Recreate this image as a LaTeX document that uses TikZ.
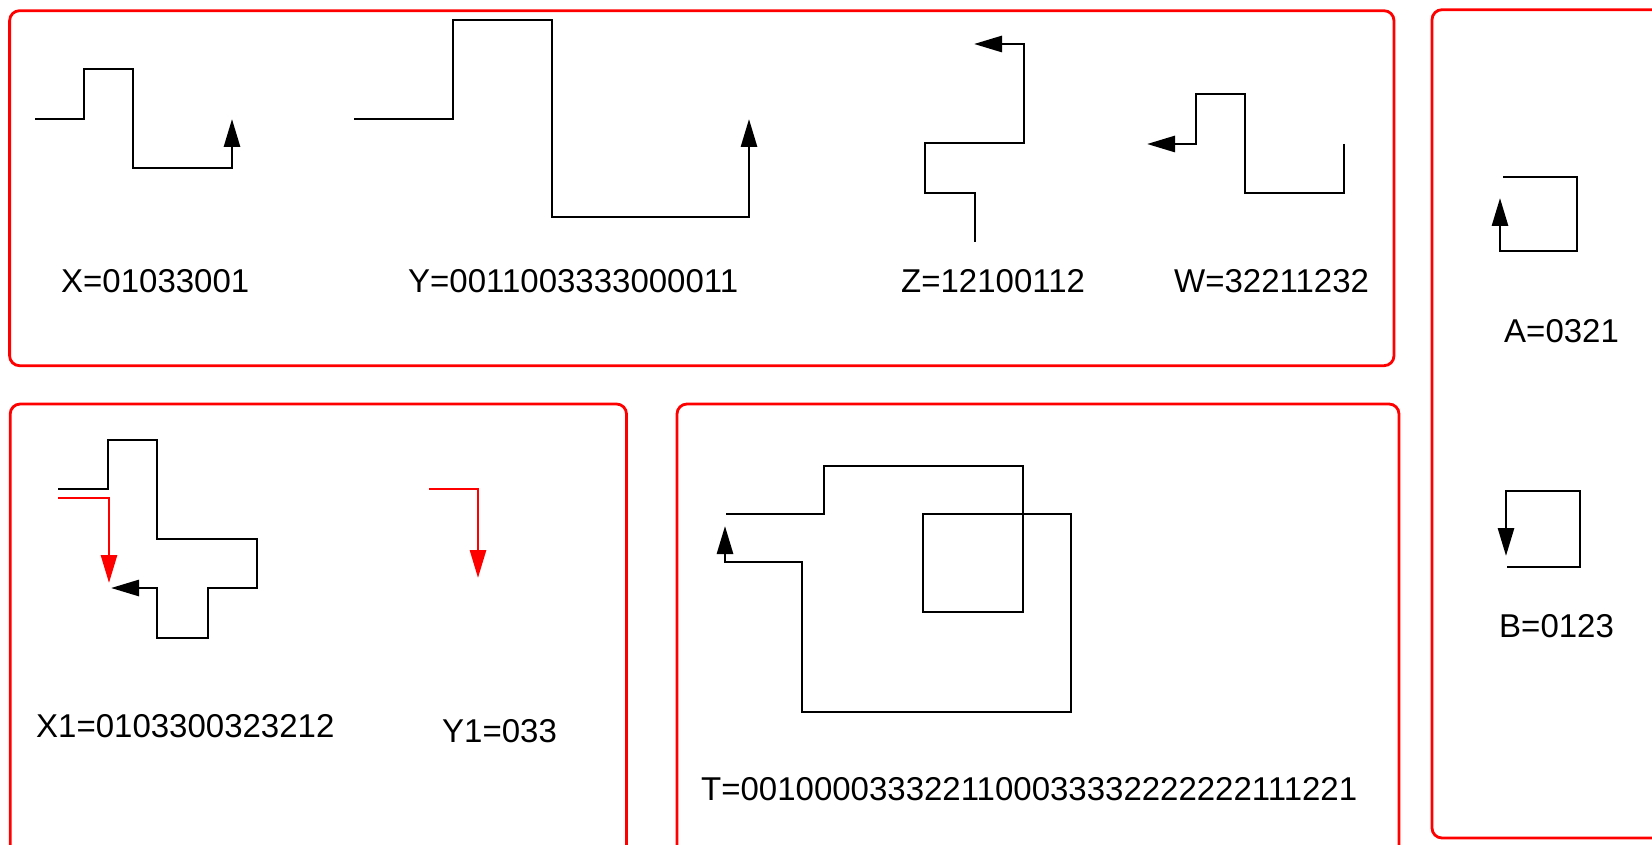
\documentclass[tikz,border=0pt]{standalone}
\usepackage{fontspec}
\setmainfont{Liberation Sans}
\usetikzlibrary{arrows.meta}
\begin{document}
\begin{tikzpicture}[x=1pt,y=-1pt,
  panel/.style={draw=red, line width=2.8pt, rounded corners=10pt},
  chain/.style={draw=black, line width=2.8pt, line join=miter},
  redchain/.style={draw=red, line width=2.8pt, line join=miter},
  tip/.style={-{Triangle[length=28pt,width=16pt]}},
  code/.style={anchor=base west, inner sep=0pt, font=\fontsize{33}{40}\selectfont}]
\useasboundingbox (0,0) rectangle (1652,845);
\clip (0,0) rectangle (1652,845);

% frames
\draw[panel] (9.6,10.7) rectangle (1394,365.7);
\draw[panel] (1432,9.7) rectangle (1720,838);
\draw[panel] (10.2,404) rectangle (626.5,860);
\draw[panel] (677,404) rectangle (1399,860);

% chain codes, top frame
\draw[chain,tip] (35,119) -- (84,119) -- (84,69) -- (133,69) -- (133,168) -- (232,168) -- (232,119);
\draw[chain,tip] (354,119) -- (453,119) -- (453,20) -- (552,20) -- (552,217) -- (749,217) -- (749,119);
\draw[chain,tip] (975,242) -- (975,193) -- (925,193) -- (925,143) -- (1024,143) -- (1024,44) -- (974,44);
\draw[chain,tip] (1344,144) -- (1344,193) -- (1245,193) -- (1245,94) -- (1196,94) -- (1196,144) -- (1147,144);

\node[code] (lx) at (61,292) {X=01033001};
\node[code] (ly) at (408,292) {Y=0011003333000011};
\node[code] (lz) at (901,292) {Z=12100112};
\node[code] (lw) at (1174,292) {W=32211232};

% closed loops, right frame
\draw[chain,tip] (1503,177) -- (1577,177) -- (1577,251) -- (1500,251) -- (1500,198);
\draw[chain,tip] (1507,567) -- (1580,567) -- (1580,491) -- (1506,491) -- (1506,556);
\node[code] (la) at (1504,342) {A=0321};
\node[code] (lb) at (1499,637) {B=0123};

% X1 with its red prefix, and Y1
\draw[chain,tip] (58,489) -- (108,489) -- (108,440) -- (157,440) -- (157,539) -- (257,539) -- (257,588) -- (208,588) -- (208,638) -- (157,638) -- (157,588) -- (111,588);
\draw[redchain,tip] (58,498) -- (109,498) -- (109,583);
\draw[redchain,tip] (429,489) -- (478,489) -- (478,578);
\node[code] (lx1) at (36,737) {X1=0103300323212};
\node[code] (ly1) at (442,742) {Y1=033};

% T, self-crossing chain
\draw[chain,tip] (726,514) -- (824,514) -- (824,466) -- (1023,466) -- (1023,612) -- (923,612) -- (923,514) -- (1071,514) -- (1071,712) -- (802,712) -- (802,562) -- (725,562) -- (725,526);
\node[code] (lt) at (701,800) {T=0010000333221100033332222222111221};
\end{tikzpicture}
\end{document}
